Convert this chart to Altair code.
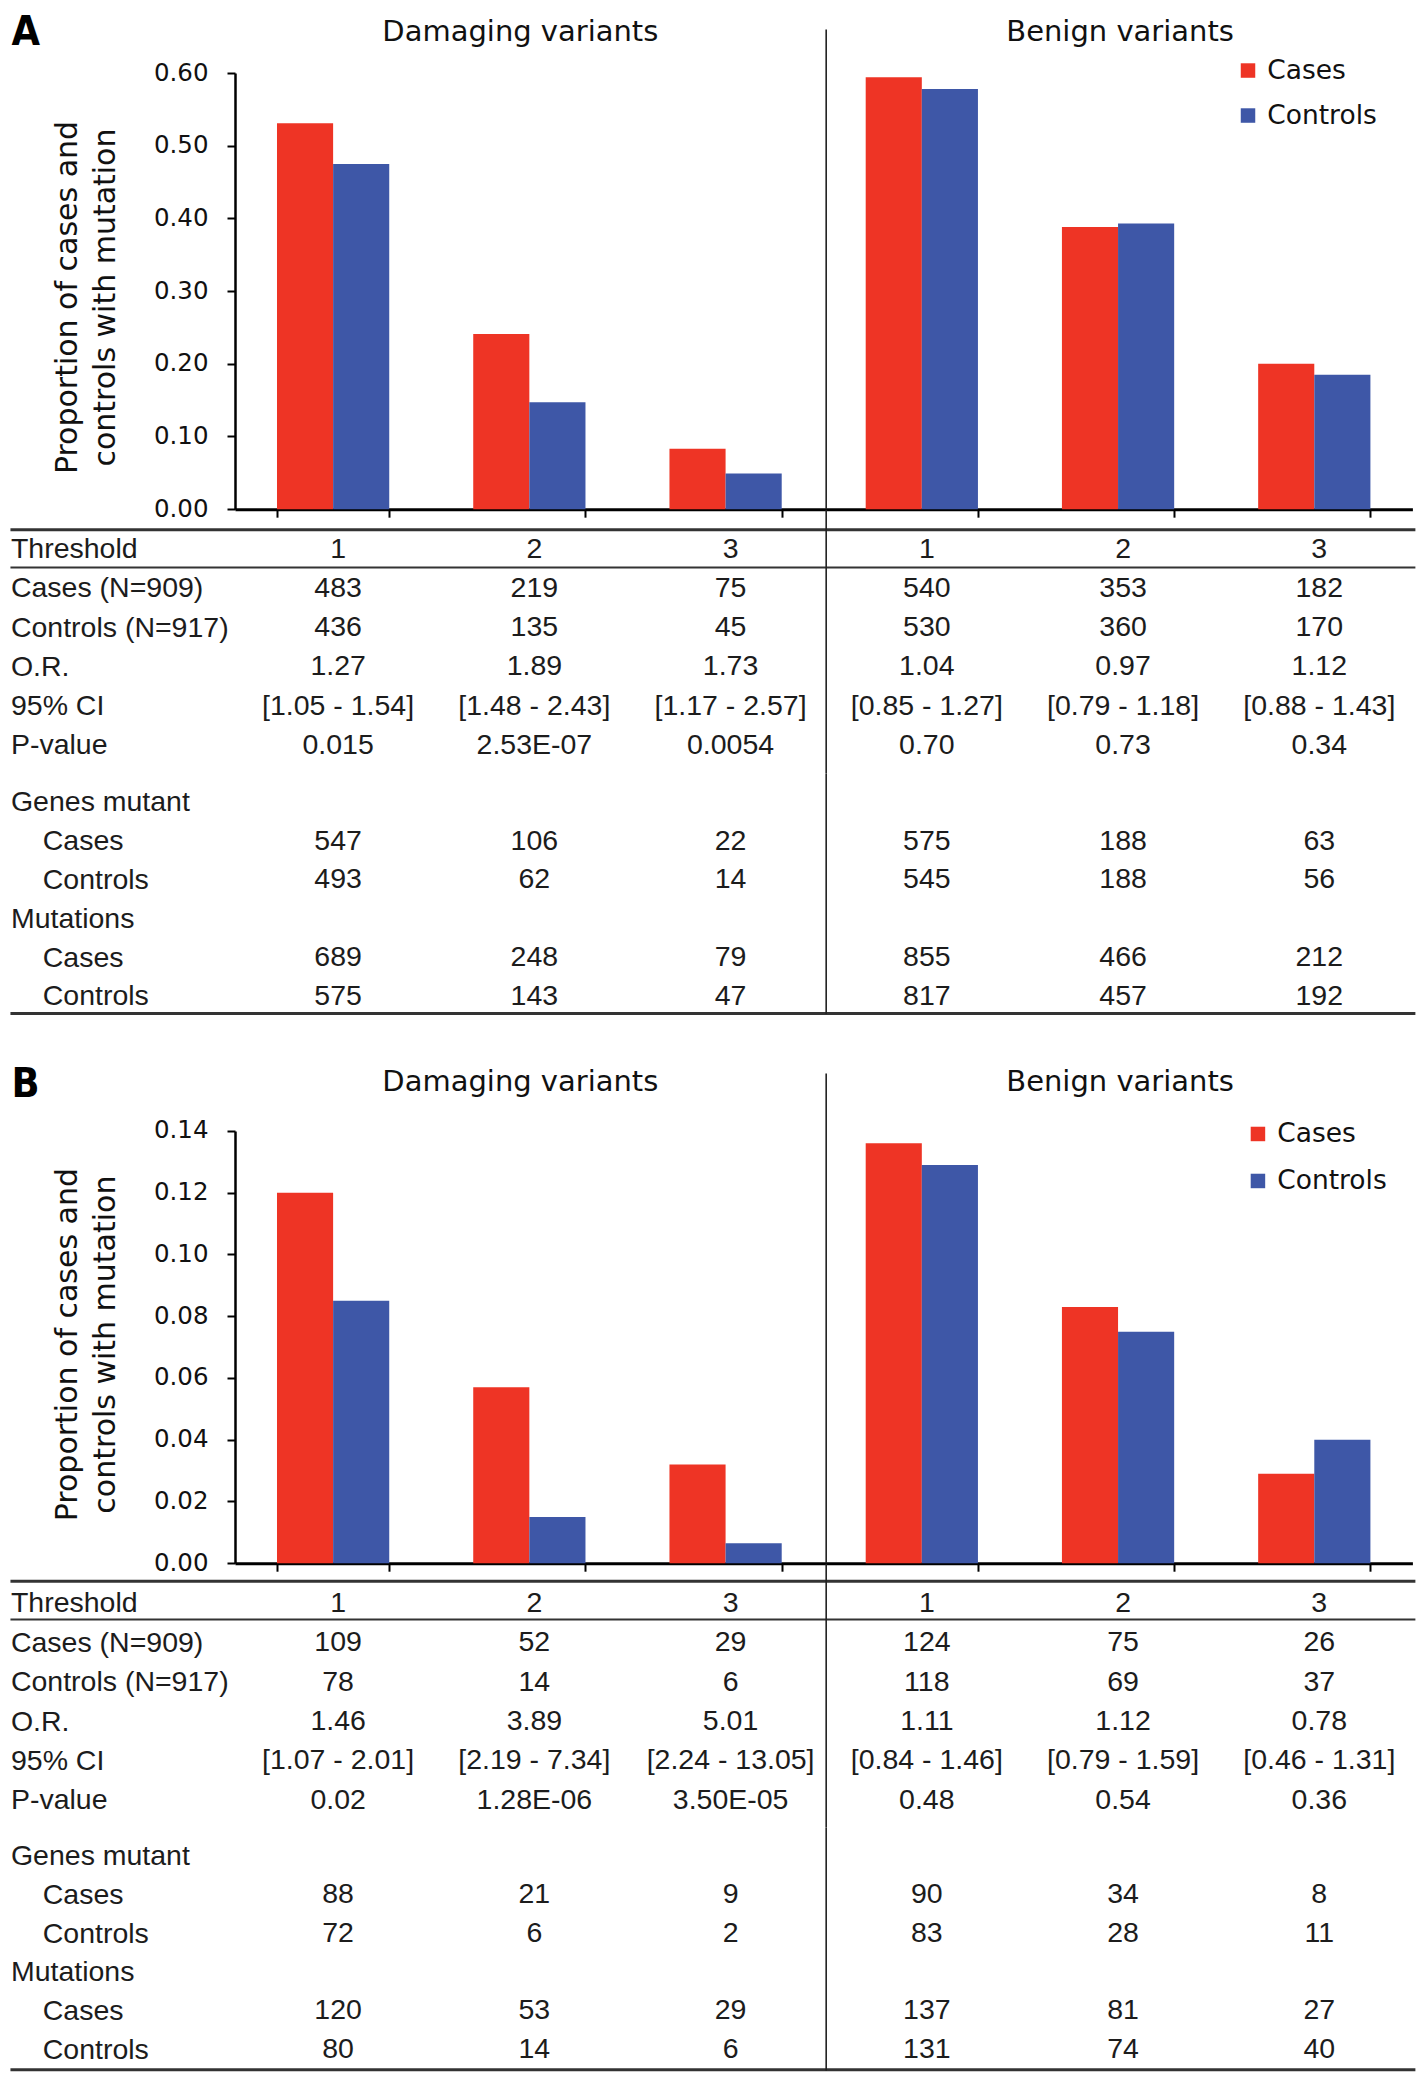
import json
import altair as alt
import pandas as pd

# ---------------- data ----------------
CATS = ["D1", "D2", "D3", "B1", "B2", "B3"]
GROUPS = ["Cases", "Controls"]
COLORS = ["#EE3425", "#3E57A7"]
HALF_TITLES = ["Damaging variants", "Benign variants"]
HALF_TITLE_CATS = ["D2", "B2"]
Y_TITLE = ["Proportion of cases and", "controls with mutation"]

A_PROP_CASES = [0.531, 0.241, 0.083, 0.594, 0.388, 0.200]
A_PROP_CONTROLS = [0.475, 0.147, 0.049, 0.578, 0.393, 0.185]
B_PROP_CASES = [0.120, 0.057, 0.032, 0.136, 0.083, 0.029]
B_PROP_CONTROLS = [0.085, 0.015, 0.0065, 0.129, 0.075, 0.040]
A_Y_TICKS = [0.0, 0.1, 0.2, 0.3, 0.4, 0.5, 0.6]
B_Y_TICKS = [0.0, 0.02, 0.04, 0.06, 0.08, 0.10, 0.12, 0.14]

STAT_ROW_LABELS = ["Threshold", "Cases (N=909)", "Controls (N=917)", "O.R.", "95% CI", "P-value"]
COUNT_ROW_LABELS = ["Genes mutant", "Cases", "Controls", "Mutations", "Cases", "Controls"]
COUNT_INDENTED_ROWS = [1, 2, 4, 5]

THRESHOLDS = ["1", "2", "3", "1", "2", "3"]

A_CASES_N = ["483", "219", "75", "540", "353", "182"]
A_CONTROLS_N = ["436", "135", "45", "530", "360", "170"]
A_OR = ["1.27", "1.89", "1.73", "1.04", "0.97", "1.12"]
A_CI = ["[1.05 - 1.54]", "[1.48 - 2.43]", "[1.17 - 2.57]", "[0.85 - 1.27]", "[0.79 - 1.18]", "[0.88 - 1.43]"]
A_P = ["0.015", "2.53E-07", "0.0054", "0.70", "0.73", "0.34"]
A_GENES_CASES = ["547", "106", "22", "575", "188", "63"]
A_GENES_CONTROLS = ["493", "62", "14", "545", "188", "56"]
A_MUT_CASES = ["689", "248", "79", "855", "466", "212"]
A_MUT_CONTROLS = ["575", "143", "47", "817", "457", "192"]

B_CASES_N = ["109", "52", "29", "124", "75", "26"]
B_CONTROLS_N = ["78", "14", "6", "118", "69", "37"]
B_OR = ["1.46", "3.89", "5.01", "1.11", "1.12", "0.78"]
B_CI = ["[1.07 - 2.01]", "[2.19 - 7.34]", "[2.24 - 13.05]", "[0.84 - 1.46]", "[0.79 - 1.59]", "[0.46 - 1.31]"]
B_P = ["0.02", "1.28E-06", "3.50E-05", "0.48", "0.54", "0.36"]
B_GENES_CASES = ["88", "21", "9", "90", "34", "8"]
B_GENES_CONTROLS = ["72", "6", "2", "83", "28", "11"]
B_MUT_CASES = ["120", "53", "29", "137", "81", "27"]
B_MUT_CONTROLS = ["80", "14", "6", "131", "74", "40"]

EMPTY = [""] * 6

# ---------------- layout constants ----------------
KX = 0.9936
KY = 0.9913
PLOT_LEFT = 232
PLOT_RIGHT = 1417
LINE_L = 6
LINE_R = 1420


def fx(rx):
    return (rx - PLOT_LEFT) * KX


W = fx(PLOT_RIGHT)
CFONT = "DejaVu Sans"
TFONT = "Liberation Sans, Arial, sans-serif"
LFONT = "Liberation Sans Narrow, DejaVu Sans Condensed, Liberation Sans"
INK = "#111111"
TINK = "#1c1c1c"


def xscale():
    return alt.Scale(type="band", domain=CATS, paddingInner=0.428, paddingOuter=0.214)


def one():
    return pd.DataFrame({"k": [0]})


def bar_df(cases, controls):
    rows = []
    for c, a, b in zip(CATS, cases, controls):
        rows.append({"cat": c, "group": GROUPS[0], "value": a})
        rows.append({"cat": c, "group": GROUPS[1], "value": b})
    return pd.DataFrame(rows)


def table_df(rows):
    out = []
    for r, vals in enumerate(rows):
        for c, v in zip(CATS, vals):
            if v:
                out.append({"cat": c, "row": r, "text": v})
    return pd.DataFrame(out)


def vrule(xpos, y0, y1):
    return alt.Chart(one()).mark_rule(color="#222222", strokeWidth=1.6).encode(
        x=alt.value(xpos), y=alt.value(y0), y2=alt.value(y1))


def hrule(ypos, sw):
    return alt.Chart(one()).mark_rule(color="#333333", strokeWidth=sw).encode(
        x=alt.value(fx(LINE_L)), x2=alt.value(fx(LINE_R)), y=alt.value(ypos))


def bar_panel(cases, controls, ymax, yticks, ref_top, ref_bot, letter, letter_mid,
              title_base, div_top, ytitle_center, legend_center, legend_rowpad, marker=False):
    H = (ref_bot - ref_top) * KY

    def fy(ry):
        return (ry - ref_top) * KY

    bars = alt.Chart(bar_df(cases, controls)).mark_bar(strokeWidth=0).encode(
        x=alt.X("cat:N", scale=xscale(), sort=CATS,
                axis=alt.Axis(labels=False, title=None, tickBand="extent", tickSize=8,
                              tickWidth=2, tickColor="#000000", domainColor="#000000",
                              domainWidth=3, grid=False)),
        xOffset=alt.XOffset("group:N", scale=alt.Scale(domain=GROUPS, paddingInner=0, paddingOuter=0)),
        y=alt.Y("value:Q", scale=alt.Scale(domain=[0, ymax], nice=False),
                axis=alt.Axis(values=yticks, format=".2f", labelFont=CFONT, labelFontSize=24.5,
                              labelColor=INK, labelPadding=19, tickSize=8, tickWidth=2,
                              tickColor="#000000", domainColor="#000000", domainWidth=2.5,
                              grid=False, title=Y_TITLE, titleFont=CFONT, titleFontSize=30,
                              titleFontWeight="normal", titleColor=INK, titleLineHeight=38,
                              titleAngle=270, titleX=fx(ytitle_center[0]),
                              titleY=fy(ytitle_center[1]), titleAlign="center",
                              titleBaseline="middle")),
        color=alt.Color("group:N", scale=alt.Scale(domain=GROUPS, range=COLORS),
                        legend=alt.Legend(orient="none", legendX=fx(legend_center[0]) - 7.25,
                                          legendY=fy(legend_center[1]) - 13.25, title=None,
                                          symbolType="square", symbolSize=210,
                                          symbolStrokeWidth=0, labelFont=CFONT,
                                          labelFontSize=26.5, labelColor=INK, labelOffset=6,
                                          rowPadding=legend_rowpad, padding=0)),
    )

    title_layers = []
    for cat, label, dx in zip(HALF_TITLE_CATS, HALF_TITLES, [-9, 2]):
        title_layers.append(
            alt.Chart(pd.DataFrame({"cat": [cat], "label": [label]})).mark_text(
                font=CFONT, fontSize=29, color=INK, baseline="alphabetic", align="center", dx=dx
            ).encode(x=alt.X("cat:N"), y=alt.value(fy(title_base)), text="label:N"))

    letter_t = alt.Chart(pd.DataFrame({"label": [letter]})).mark_text(
        font=LFONT, fontSize=41, fontWeight="bold", color="#000000", baseline="middle",
        align="left"
    ).encode(x=alt.value(fx(7)), y=alt.value(fy(letter_mid)), text="label:N")

    layers = [bars] + title_layers + [letter_t, vrule(fx(827), fy(div_top), H)]
    if marker:
        layers.append(alt.Chart(one()).mark_rule(opacity=0, strokeWidth=0.5).encode(
            x=alt.value(fx(20)), x2=alt.value(fx(30)), y=alt.value(fy(-2.75))))
    return alt.layer(*layers).properties(width=W, height=H)


def table_panel(rows, labels, ref_top, ref_bot, rng_top, rng_bot, lines, div_bot=None,
                indented=None):
    H = (ref_bot - ref_top) * KY

    def fy(ry):
        return (ry - ref_top) * KY

    labexpr = "[" + ",".join(json.dumps(l) for l in labels) + "][datum.value]"
    pad = fx(PLOT_LEFT) - fx(6)
    if indented:
        test = "indexof([" + ",".join(str(i) for i in indented) + "], datum.value) >= 0"
        label_pad = {"condition": {"test": test, "value": pad - 32 * KX}, "value": pad}
    else:
        label_pad = pad
    text = alt.Chart(table_df(rows)).mark_text(
        font=TFONT, fontSize=28.5, color=TINK, dx=5, baseline="middle", align="center"
    ).encode(
        x=alt.X("cat:N", scale=xscale(), sort=CATS, axis=None),
        y=alt.Y("row:O", scale=alt.Scale(type="point", domain=list(range(len(labels))),
                                         range=[fy(rng_top), fy(rng_bot)], padding=0.5),
                axis=alt.Axis(labelExpr=labexpr, labelAlign="left", labelBaseline="middle",
                              labelPadding=label_pad, tickSize=0, ticks=False,
                              domain=False, grid=False, title=None, labelFont=TFONT,
                              labelFontSize=28.5, labelColor=TINK, labelLimit=500,
                              labelOverlap=False)),
        text="text:N",
    )
    layers = [text]
    for ry, sw in lines:
        layers.append(hrule(fy(ry), sw))
    layers.append(vrule(fx(827), 0, fy(div_bot) if div_bot is not None else H))
    return alt.layer(*layers).properties(width=W, height=H)


chartA = bar_panel(A_PROP_CASES, A_PROP_CONTROLS, 0.6, A_Y_TICKS, 62, 502, "A", 22, 30, 18,
                   (63, 288), (1245.5, 59.5), 18, marker=True)
tableA1 = table_panel([THRESHOLDS, A_CASES_N, A_CONTROLS_N, A_OR, A_CI, A_P], STAT_ROW_LABELS,
                      502, 768, 521.2, 758.6, [(522, 3), (560, 2)])
tableA2 = table_panel([EMPTY, A_GENES_CASES, A_GENES_CONTROLS, EMPTY, A_MUT_CASES, A_MUT_CONTROLS],
                      COUNT_ROW_LABELS, 768, 1128, 776.4, 1011.4, [(1009.5, 3)], div_bot=1010,
                      indented=COUNT_INDENTED_ROWS)
chartB = bar_panel(B_PROP_CASES, B_PROP_CONTROLS, 0.14, B_Y_TICKS, 1128, 1564, "B", 1082, 1088, 1070,
                   (63, 1343), (1255.5, 1131), 20)
tableB1 = table_panel([THRESHOLDS, B_CASES_N, B_CONTROLS_N, B_OR, B_CI, B_P], STAT_ROW_LABELS,
                      1564, 1830, 1583.1, 1821.9, [(1581.5, 3), (1620, 2)])
tableB2 = table_panel([EMPTY, B_GENES_CASES, B_GENES_CONTROLS, EMPTY, B_MUT_CASES, B_MUT_CONTROLS],
                      COUNT_ROW_LABELS, 1830, 2076, 1838.5, 2072.5, [(2074, 3)], div_bot=2075,
                      indented=COUNT_INDENTED_ROWS)

chart = alt.vconcat(chartA, tableA1, tableA2, chartB, tableB1, tableB2,
                    spacing=0, bounds="flush", padding=0).resolve_scale(
    x="independent", y="independent", color="independent", xOffset="independent"
).configure_view(stroke=None)

chart.save("out.html", embed_options={"renderer": "svg", "actions": False})
